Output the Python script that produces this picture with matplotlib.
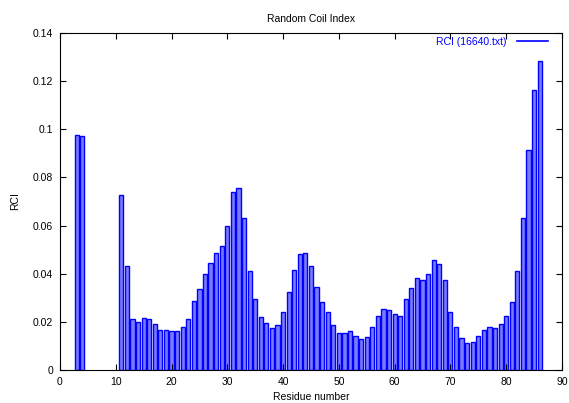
"""Random Coil Index bar chart (gnuplot-style)."""

import matplotlib
matplotlib.use("Agg")
import matplotlib.pyplot as plt
from matplotlib.lines import Line2D

plt.rcParams["font.family"] = ["Liberation Sans", "DejaVu Sans"]

residues = [3, 4] + list(range(11, 87))
rci = [
    0.0975, 0.0972,
    0.0729, 0.0431, 0.0211, 0.0198, 0.0218, 0.0211, 0.0190, 0.0165, 0.0165, 0.0164,
    0.0161, 0.0178, 0.0211, 0.0286, 0.0337, 0.0398, 0.0446, 0.0488, 0.0514, 0.0600,
    0.0741, 0.0757, 0.0633, 0.0410, 0.0294, 0.0222, 0.0197, 0.0173, 0.0186, 0.0240,
    0.0326, 0.0414, 0.0481, 0.0484, 0.0430, 0.0344, 0.0284, 0.0240, 0.0187, 0.0155,
    0.0152, 0.0164, 0.0141, 0.0129, 0.0136, 0.0179, 0.0223, 0.0255, 0.0250, 0.0232,
    0.0226, 0.0293, 0.0342, 0.0383, 0.0373, 0.0400, 0.0457, 0.0440, 0.0374, 0.0243,
    0.0178, 0.0134, 0.0114, 0.0116, 0.0143, 0.0166, 0.0180, 0.0176, 0.0193, 0.0223,
    0.0283, 0.0413, 0.0633, 0.0915, 0.1164, 0.1282,
]
x_ticks = list(range(0, 91, 10))
y_ticks = [0, 0.02, 0.04, 0.06, 0.08, 0.1, 0.12, 0.14]
y_tick_labels = ["0", "0.02", "0.04", "0.06", "0.08", "0.1", "0.12", "0.14"]

fig = plt.figure(figsize=(5.69, 4.03), dpi=100)
ax = fig.add_axes([0.1054, 0.0819, 0.8822, 0.8362])

ax.bar(residues, rci, width=0.75, facecolor="#7a7aff", edgecolor="#0000ff", linewidth=1.0)

ax.set_xlim(0, 90)
ax.set_ylim(0, 0.14)
ax.set_xticks(x_ticks)
ax.set_yticks(y_ticks)
ax.set_yticklabels(y_tick_labels)
ax.tick_params(direction="in", length=4, width=0.8, labelsize=7.5,
               top=True, right=True, pad=5)
for spine in ax.spines.values():
    spine.set_linewidth(0.8)

ax.set_title("Random Coil Index", fontsize=7.5, pad=8)
ax.set_xlabel("Residue number", fontsize=7.5, labelpad=4)
ax.set_ylabel("RCI", fontsize=7.5, labelpad=9)

handle = Line2D([], [], color="#0000ff", linewidth=1.2)
leg = ax.legend([handle], ["RCI (16640.txt)"], loc="upper right", frameon=False,
                markerfirst=False, fontsize=7.5, handlelength=3.0,
                borderpad=0, borderaxespad=0, handletextpad=1.0,
                bbox_to_anchor=(548 / 569, 1 - 37 / 403),
                bbox_transform=fig.transFigure)
for text in leg.get_texts():
    text.set_color("#0000ff")

fig.savefig("out.png", dpi=100)
